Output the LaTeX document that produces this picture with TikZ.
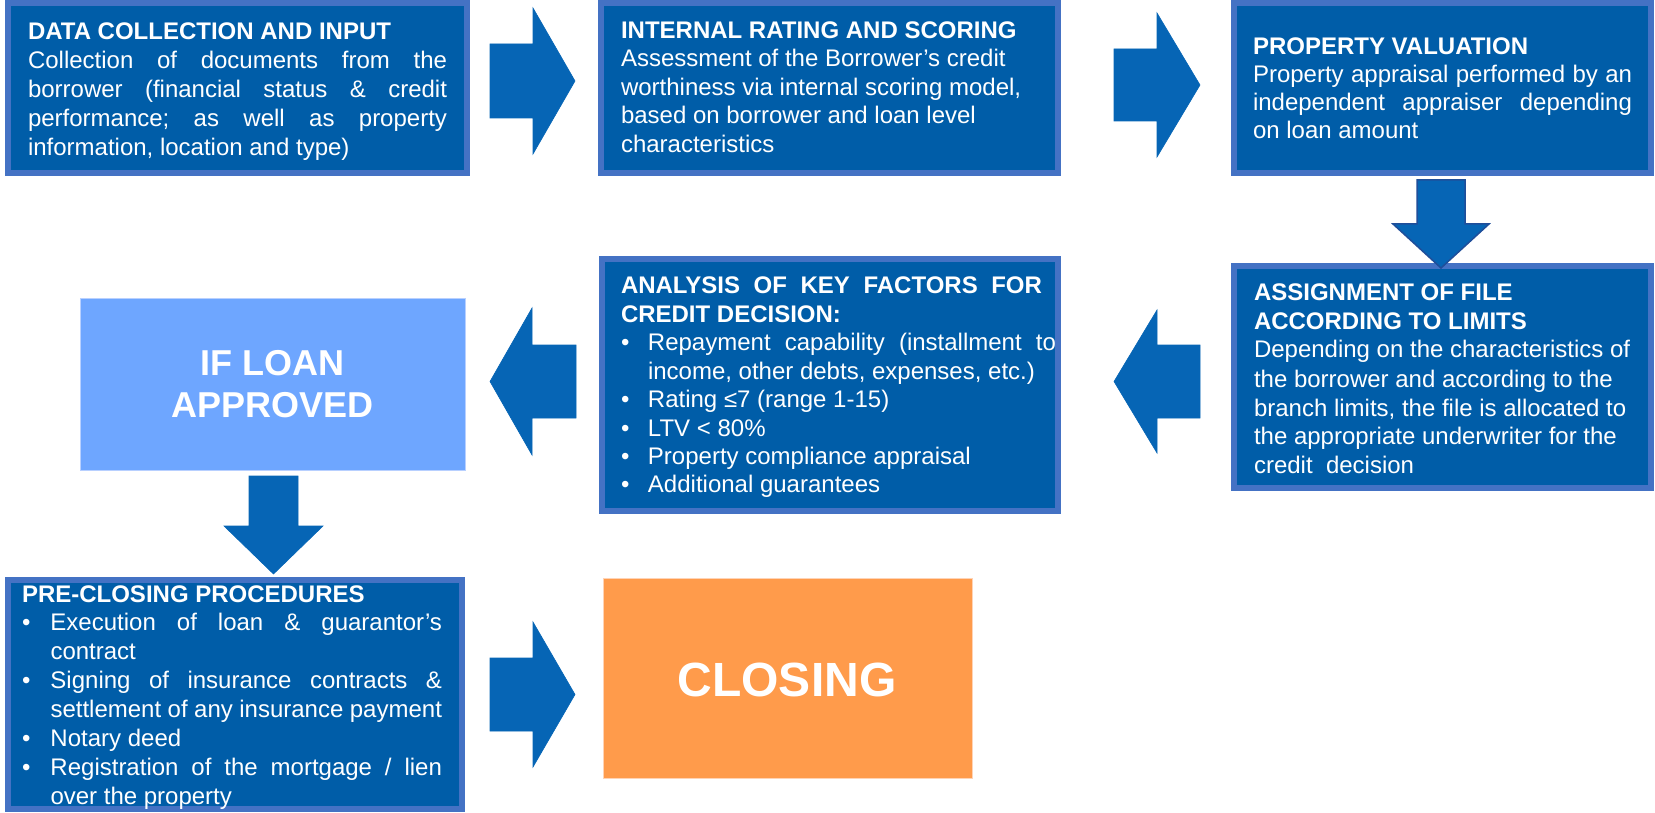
\documentclass[tikz,border=0pt]{standalone}
\usepackage{fontspec}
\setmainfont{Liberation Sans}
\frenchspacing
\definecolor{boxfill}{HTML}{005DA8}
\definecolor{boxedge}{HTML}{4472C4}
\definecolor{arrowfill}{HTML}{0665B5}
\definecolor{arrowedge}{HTML}{1F4E9A}
\definecolor{lightbox}{HTML}{6EA6FF}
\definecolor{lightedge}{HTML}{B8D0FF}
\definecolor{orangebox}{HTML}{FF9B4B}
\definecolor{orangeedge}{HTML}{FFD3B5}
\newcommand\bodyfont[1]{\fontsize{24}{#1}\selectfont}
\newcommand\jl[1]{\makebox[\linewidth][s]{#1}}
\newcommand\bul[2]{\makebox[#1][l]{\textbullet}#2}
\newcommand\bjl[3][0pt]{\makebox[#2][l]{\textbullet}\makebox[\dimexpr\linewidth-#2+#1\relax][s]{#3}}
\newcommand\cont[2]{\hspace*{#1}#2}
\begin{document}
\begin{tikzpicture}[x=1pt,y=-1pt,
  bluebox/.style={fill=boxfill, draw=boxedge, line width=6pt, anchor=north west, inner sep=0pt, outer sep=0pt},
  flatbox/.style={anchor=north west, inner sep=0pt, outer sep=0pt, line width=1pt},
  txt/.style={anchor=base west, inner sep=0pt, outer sep=0pt, text=white},
  bigtxt/.style={text=white, align=center, inner sep=0pt},
  blockarrow/.style={fill=arrowfill, draw=arrowfill, line width=0.6pt, line join=miter}
]
\useasboundingbox (0,0) rectangle (1655,813);

% boxes
\node[bluebox, minimum width=459pt, minimum height=170pt] (b1) at (8,3.5) {};
\node[bluebox, minimum width=457pt, minimum height=170pt] (b2) at (601,3.5) {};
\node[bluebox, minimum width=417pt, minimum height=170pt] (b3) at (1234,3.5) {};
\node[bluebox, minimum width=417pt, minimum height=222pt] (b5) at (1234,266) {};
\node[bluebox, minimum width=456pt, minimum height=252pt] (b4) at (602,259) {};
\node[bluebox, minimum width=454pt, minimum height=229pt] (b6) at (8,580) {};
\node[flatbox, fill=lightbox, draw=lightedge, minimum width=385pt, minimum height=172pt] (ifl) at (80,298) {};
\node[flatbox, fill=orangebox, draw=orangeedge, minimum width=369pt, minimum height=200pt] (clo) at (603,578) {};

% texts
\node[txt] (t1) at (28,39.3) {\parbox[t]{419pt}{\bodyfont{29}\textbf{DATA COLLECTION AND INPUT}\\
\jl{Collection of documents from the}\\
\jl{borrower (financial status \& credit}\\
\jl{performance; as well as property}\\
information, location and type)}};

\node[txt] (t2) at (621,38.5) {\parbox[t]{430pt}{\bodyfont{28.5}\textbf{INTERNAL RATING AND SCORING}\\
Assessment of the Borrower’s credit\\
worthiness via internal scoring model,\\
based on borrower and loan level\\
characteristics}};

\node[txt] (t3) at (1253,55) {\parbox[t]{379pt}{\bodyfont{27.8}\textbf{PROPERTY VALUATION}\\
\jl{Property appraisal performed by an}\\
\jl{independent appraiser depending}\\
on loan amount}};

\node[txt] (t5) at (1254,300) {\parbox[t]{395pt}{\bodyfont{29}\textbf{ASSIGNMENT OF FILE}\\
\textbf{ACCORDING TO LIMITS}\\
Depending on the characteristics of\\
the borrower and according to the\\
branch limits, the file is allocated to\\
the appropriate underwriter for the\\
credit\ \ decision}};

\node[txt] (t4) at (621,293.5) {\parbox[t]{421pt}{\bodyfont{28.5}\jl{\textbf{ANALYSIS OF KEY FACTORS FOR}}\\
\textbf{CREDIT DECISION:}\\
\bjl[14pt]{27pt}{Repayment capability (installment to}\\
\cont{27pt}{income, other debts, expenses, etc.)}\\
\bul{27pt}{Rating ≤7 (range 1-15)}\\
\bul{27pt}{LTV < 80\%}\\
\bul{27pt}{Property compliance appraisal}\\
\bul{27pt}{Additional guarantees}}};

\node[txt] (t6) at (22,602) {\parbox[t]{420pt}{\bodyfont{28.9}\textbf{PRE-CLOSING PROCEDURES}\\
\bjl{28.5pt}{Execution of loan \& guarantor’s}\\
\cont{28.5pt}{contract}\\
\bjl{28.5pt}{Signing of insurance contracts \&}\\
\cont{28.5pt}{\makebox[\dimexpr\linewidth-28.5pt\relax][s]{settlement of any insurance payment}}\\
\bul{28.5pt}{Notary deed}\\
\bjl{28.5pt}{Registration of the mortgage / lien}\\
\cont{28.5pt}{over the property}}};

\node[bigtxt, font=\fontsize{36}{42}\selectfont\bfseries] (iflt) at (ifl.center) {IF LOAN\\APPROVED};
\node[bigtxt, font=\fontsize{48}{56}\selectfont\bfseries] (clot) at (787,680) {CLOSING};

% block arrows
\draw[blockarrow] (490,44) -- (533,44) -- (533,8) -- (575,81) -- (533,154) -- (533,118) -- (490,118) -- cycle;
\draw[blockarrow] (1114,49) -- (1157,49) -- (1157,13) -- (1200,85) -- (1157,157) -- (1157,121) -- (1114,121) -- cycle;
\draw[blockarrow, draw=arrowedge, line width=1.5pt] (1417,180) -- (1465,180) -- (1465,224) -- (1489,224) -- (1441,268) -- (1393,224) -- (1417,224) -- cycle;
\draw[blockarrow] (1200,345) -- (1157,345) -- (1157,310) -- (1114,381.5) -- (1157,453) -- (1157,418) -- (1200,418) -- cycle;
\draw[blockarrow] (576,345) -- (532,345) -- (532,308) -- (490,381.5) -- (532,455) -- (532,418) -- (576,418) -- cycle;
\draw[blockarrow] (249,476) -- (298,476) -- (298,526) -- (323,526) -- (273.5,574) -- (224,526) -- (249,526) -- cycle;
\draw[blockarrow] (490,658) -- (533,658) -- (533,622) -- (575,694.5) -- (533,767) -- (533,731) -- (490,731) -- cycle;
\end{tikzpicture}
\end{document}
